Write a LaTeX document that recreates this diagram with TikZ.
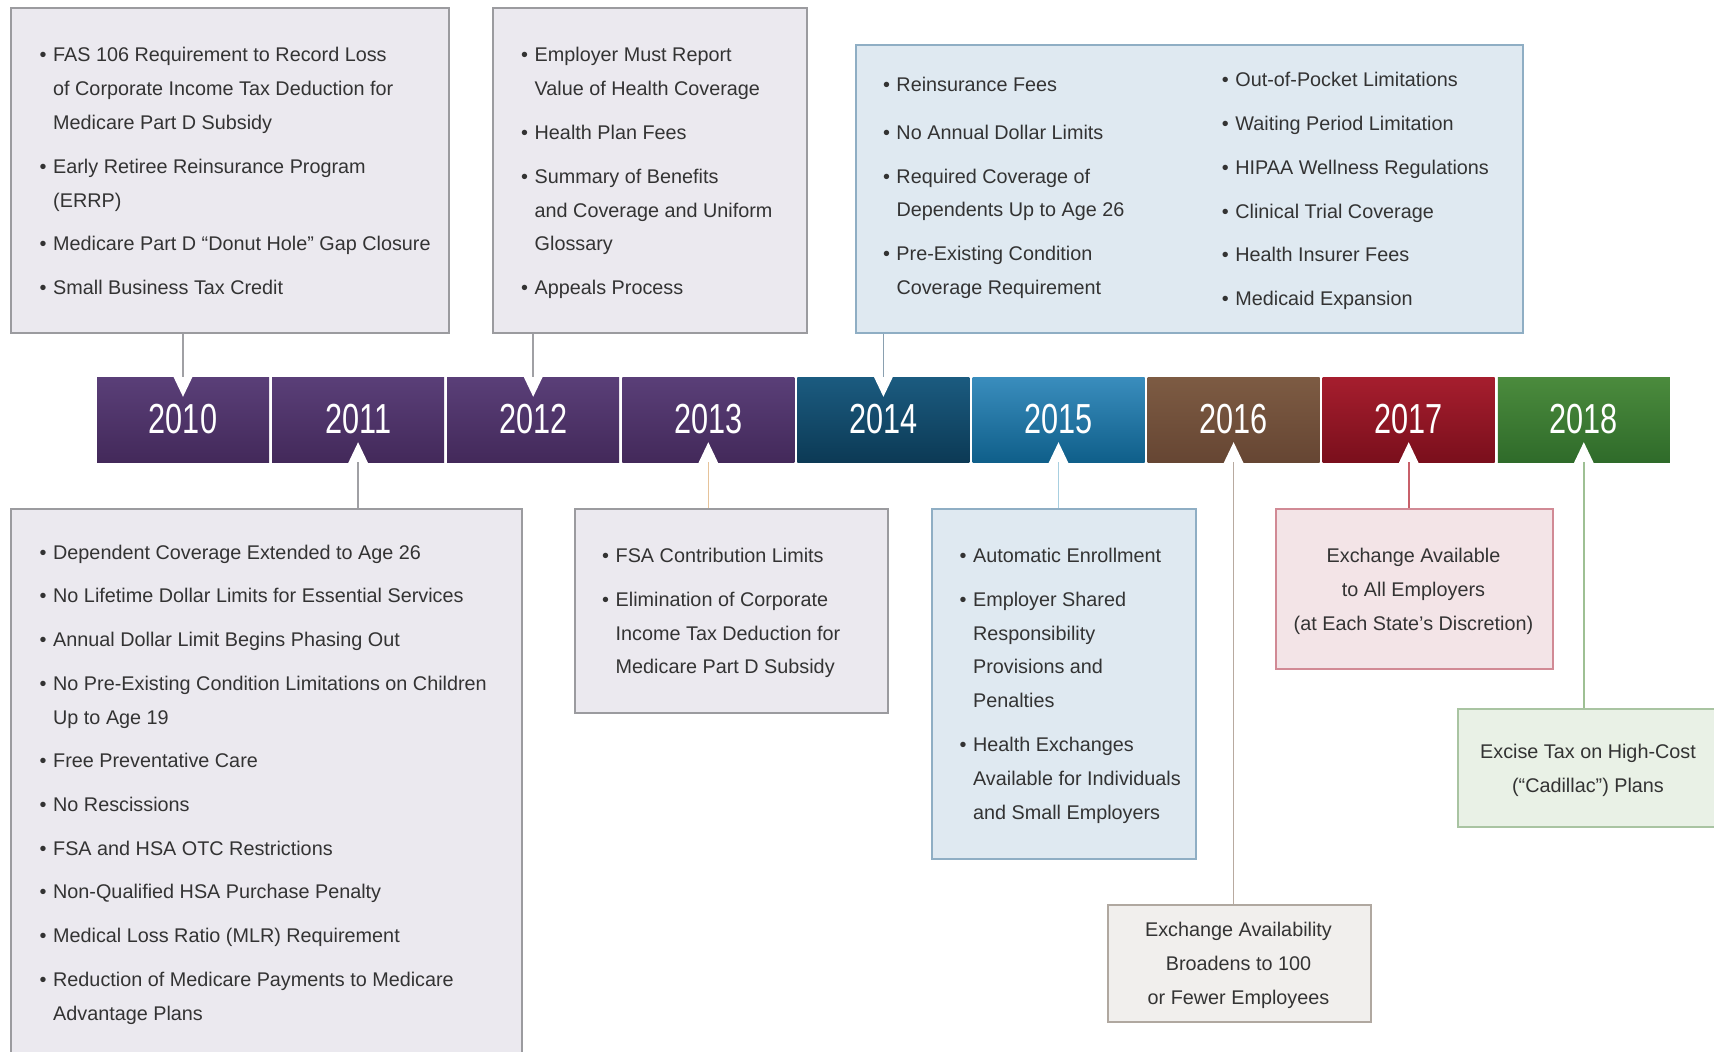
\documentclass[tikz,border=0pt]{standalone}
\usepackage{fontspec}
\setmainfont{Liberation Sans}
\newfontfamily\yearfont[FakeStretch=0.73]{Liberation Sans}

% timeline cell colours (top / bottom of each gradient)
\definecolor{purpT}{HTML}{5A3F78}
\definecolor{purpB}{HTML}{43295A}
\definecolor{tealT}{HTML}{1B5B80}
\definecolor{tealB}{HTML}{0C3A55}
\definecolor{blueT}{HTML}{3A8DBD}
\definecolor{blueB}{HTML}{0F5F8A}
\definecolor{brownT}{HTML}{7D5B43}
\definecolor{brownB}{HTML}{664633}
\definecolor{redT}{HTML}{A61E2E}
\definecolor{redB}{HTML}{7A0F1C}
\definecolor{greenT}{HTML}{4B8B3D}
\definecolor{greenB}{HTML}{2F6B2A}

% box fills and borders
\definecolor{lavFill}{HTML}{EBE9EF}
\definecolor{lavLine}{HTML}{9B9B9F}
\definecolor{skyFill}{HTML}{DFE9F1}
\definecolor{skyLine}{HTML}{8FAEC4}
\definecolor{sandFill}{HTML}{F1EFED}
\definecolor{sandLine}{HTML}{B0A8A0}
\definecolor{roseFill}{HTML}{F3E4E7}
\definecolor{roseLine}{HTML}{D18A95}
\definecolor{mintFill}{HTML}{E9F1E6}
\definecolor{mintLine}{HTML}{A9C4A2}

% connector colours
\definecolor{cGrey}{HTML}{A0A0A4}
\definecolor{cTan}{HTML}{E6C39A}
\definecolor{cSteel}{HTML}{8AA0B0}
\definecolor{cSky}{HTML}{A8CFE0}
\definecolor{cTaupe}{HTML}{B8AAA0}
\definecolor{cRed}{HTML}{C8606A}
\definecolor{cGreen}{HTML}{9EC094}

\definecolor{textgrey}{HTML}{333333}

\newcommand\bu{\makebox[13.5pt][l]{•}}
\newcommand\hi{\hspace*{13.5pt}}
\newcommand\tp{\rule{0pt}{20pt}}

\begin{document}
\begin{tikzpicture}[x=1pt,y=-1pt,
  cell/.style={minimum width=172pt, minimum height=85pt, inner sep=0pt,
    text=white, font=\yearfont\fontsize{42}{42}\selectfont},
  box/.style={draw, line width=1.6pt, inner sep=0pt, anchor=north west},
  lav/.style={box, fill=lavFill, draw=lavLine},
  sky/.style={box, fill=skyFill, draw=skyLine},
  sand/.style={box, fill=sandFill, draw=sandLine},
  rose/.style={box, fill=roseFill, draw=roseLine},
  mint/.style={box, fill=mintFill, draw=mintLine},
  conn/.style={line width=1.6pt},
  txt/.style={inner sep=0pt, anchor=north west, align=left, text=textgrey,
    font=\fontsize{19.8}{33.9}\selectfont},
  ctxt/.style={txt, anchor=north, align=center}
]
\clip (0,0) rectangle (1714,1052);
\fill[white] (0,0) rectangle (1714,1052);

% ---------- timeline cells ----------
\node[cell, top color=purpT, bottom color=purpB] (y2010) at (183.0,419.5) {2010};
\node[cell, top color=purpT, bottom color=purpB] (y2011) at (358.1,419.5) {2011};
\node[cell, top color=purpT, bottom color=purpB] (y2012) at (533.2,419.5) {2012};
\node[cell, top color=purpT, bottom color=purpB] (y2013) at (708.3,419.5) {2013};
\node[cell, top color=tealT, bottom color=tealB] (y2014) at (883.4,419.5) {2014};
\node[cell, top color=blueT, bottom color=blueB] (y2015) at (1058.5,419.5) {2015};
\node[cell, top color=brownT, bottom color=brownB] (y2016) at (1233.6,419.5) {2016};
\node[cell, top color=redT, bottom color=redB] (y2017) at (1408.7,419.5) {2017};
\node[cell, top color=greenT, bottom color=greenB] (y2018) at (1583.8,419.5) {2018};

% notches cut into the bar where a connector meets it
\foreach \y in {y2010,y2012,y2014}
  \fill[white] (\y.north) ++(-10,-1) -- ++(10,21) -- ++(10,-21) -- cycle;
\foreach \y in {y2011,y2013,y2015,y2016,y2017,y2018}
  \fill[white] (\y.south) ++(-10,1) -- ++(10,-21) -- ++(10,21) -- cycle;

% ---------- boxes ----------
\node[lav, minimum width=438pt, minimum height=325pt] (bA) at (10,7) {};
\node[lav, minimum width=314pt, minimum height=325pt] (bB) at (492,7) {};
\node[sky, minimum width=667pt, minimum height=288pt] (bC) at (855,44) {};
\node[lav, minimum width=511pt, minimum height=600pt] (bD) at (10,508) {};
\node[lav, minimum width=313pt, minimum height=204pt] (bE) at (574,508) {};
\node[sky, minimum width=264pt, minimum height=350pt] (bF) at (931,508) {};
\node[sand, minimum width=263pt, minimum height=117pt] (bG) at (1107,904) {};
\node[rose, minimum width=277pt, minimum height=160pt] (bH) at (1275,508) {};
\node[mint, minimum width=300pt, minimum height=118pt] (bI) at (1457,708) {};

% ---------- connectors ----------
\draw[conn, cGrey] (bA.south -| y2010.north) -- (y2010.north);
\draw[conn, cGrey] (bB.south -| y2012.north) -- (y2012.north);
\draw[conn, cSteel] (bC.south -| y2014.north) -- (y2014.north);
\draw[conn, cGrey] (y2011.south) -- (y2011.south |- bD.north);
\draw[conn, cTan] (y2013.south) -- (y2013.south |- bE.north);
\draw[conn, cSky] (y2015.south) -- (y2015.south |- bF.north);
\draw[conn, cTaupe] (y2016.south) -- (y2016.south |- bG.north);
\draw[conn, cRed] (y2017.south) -- (y2017.south |- bH.north);
\draw[conn, cGreen] (y2018.south) -- (y2018.south |- bI.north);

% ---------- box texts ----------
\node[txt] (tA) at (39.5,41.6) {\tp\bu FAS 106 Requirement to Record Loss\\
  \hi of Corporate Income Tax Deduction for\\
  \hi Medicare Part D Subsidy\\[9.8pt]
  \bu Early Retiree Reinsurance Program\\
  \hi (ERRP)\\[9.8pt]
  \bu Medicare Part D “Donut Hole” Gap Closure\\[9.8pt]
  \bu Small Business Tax Credit};

\node[txt] (tB) at (521,41.6) {\tp\bu Employer Must Report\\
  \hi Value of Health Coverage\\[9.8pt]
  \bu Health Plan Fees\\[9.8pt]
  \bu Summary of Benefits\\
  \hi and Coverage and Uniform\\
  \hi Glossary\\[9.8pt]
  \bu Appeals Process};

\node[txt] (tC1) at (882.8,71.1) {\tp\bu Reinsurance Fees\\[14.1pt]
  \bu No Annual Dollar Limits\\[9.8pt]
  \bu Required Coverage of\\
  \hi Dependents Up to Age 26\\[9.8pt]
  \bu Pre-Existing Condition\\
  \hi Coverage Requirement};

\node[txt] (tC2) at (1221.7,66.7) {\tp\bu Out-of-Pocket Limitations\\[9.8pt]
  \bu Waiting Period Limitation\\[9.8pt]
  \bu HIPAA Wellness Regulations\\[9.8pt]
  \bu Clinical Trial Coverage\\[9.8pt]
  \bu Health Insurer Fees\\[9.8pt]
  \bu Medicaid Expansion};

\node[txt] (tD) at (39.5,538.9) {\tp\bu Dependent Coverage Extended to Age 26\\[9.8pt]
  \bu No Lifetime Dollar Limits for Essential Services\\[9.8pt]
  \bu Annual Dollar Limit Begins Phasing Out\\[9.8pt]
  \bu No Pre-Existing Condition Limitations on Children\\
  \hi Up to Age 19\\[9.8pt]
  \bu Free Preventative Care\\[9.8pt]
  \bu No Rescissions\\[9.8pt]
  \bu FSA and HSA OTC Restrictions\\[9.8pt]
  \bu Non-Qualified HSA Purchase Penalty\\[9.8pt]
  \bu Medical Loss Ratio (MLR) Requirement\\[9.8pt]
  \bu Reduction of Medicare Payments to Medicare\\
  \hi Advantage Plans};

\node[txt] (tE) at (602,542.2) {\tp\bu FSA Contribution Limits\\[9.8pt]
  \bu Elimination of Corporate\\
  \hi Income Tax Deduction for\\
  \hi Medicare Part D Subsidy};

\node[txt] (tF) at (959.4,542.2) {\tp\bu Automatic Enrollment\\[9.8pt]
  \bu Employer Shared\\
  \hi Responsibility\\
  \hi Provisions and\\
  \hi Penalties\\[9.8pt]
  \bu Health Exchanges\\
  \hi Available for Individuals\\
  \hi and Small Employers};

\node[ctxt] (tG) at (1238.5,916) {\tp Exchange Availability\\
  Broadens to 100\\
  or Fewer Employees};

\node[ctxt] (tH) at (1413.5,542.2) {\tp Exchange Available\\
  to All Employers\\
  (at Each State’s Discretion)};

\node[ctxt] (tI) at (1588,737.9) {\tp Excise Tax on High-Cost\\
  (“Cadillac”) Plans};
\end{tikzpicture}
\end{document}
